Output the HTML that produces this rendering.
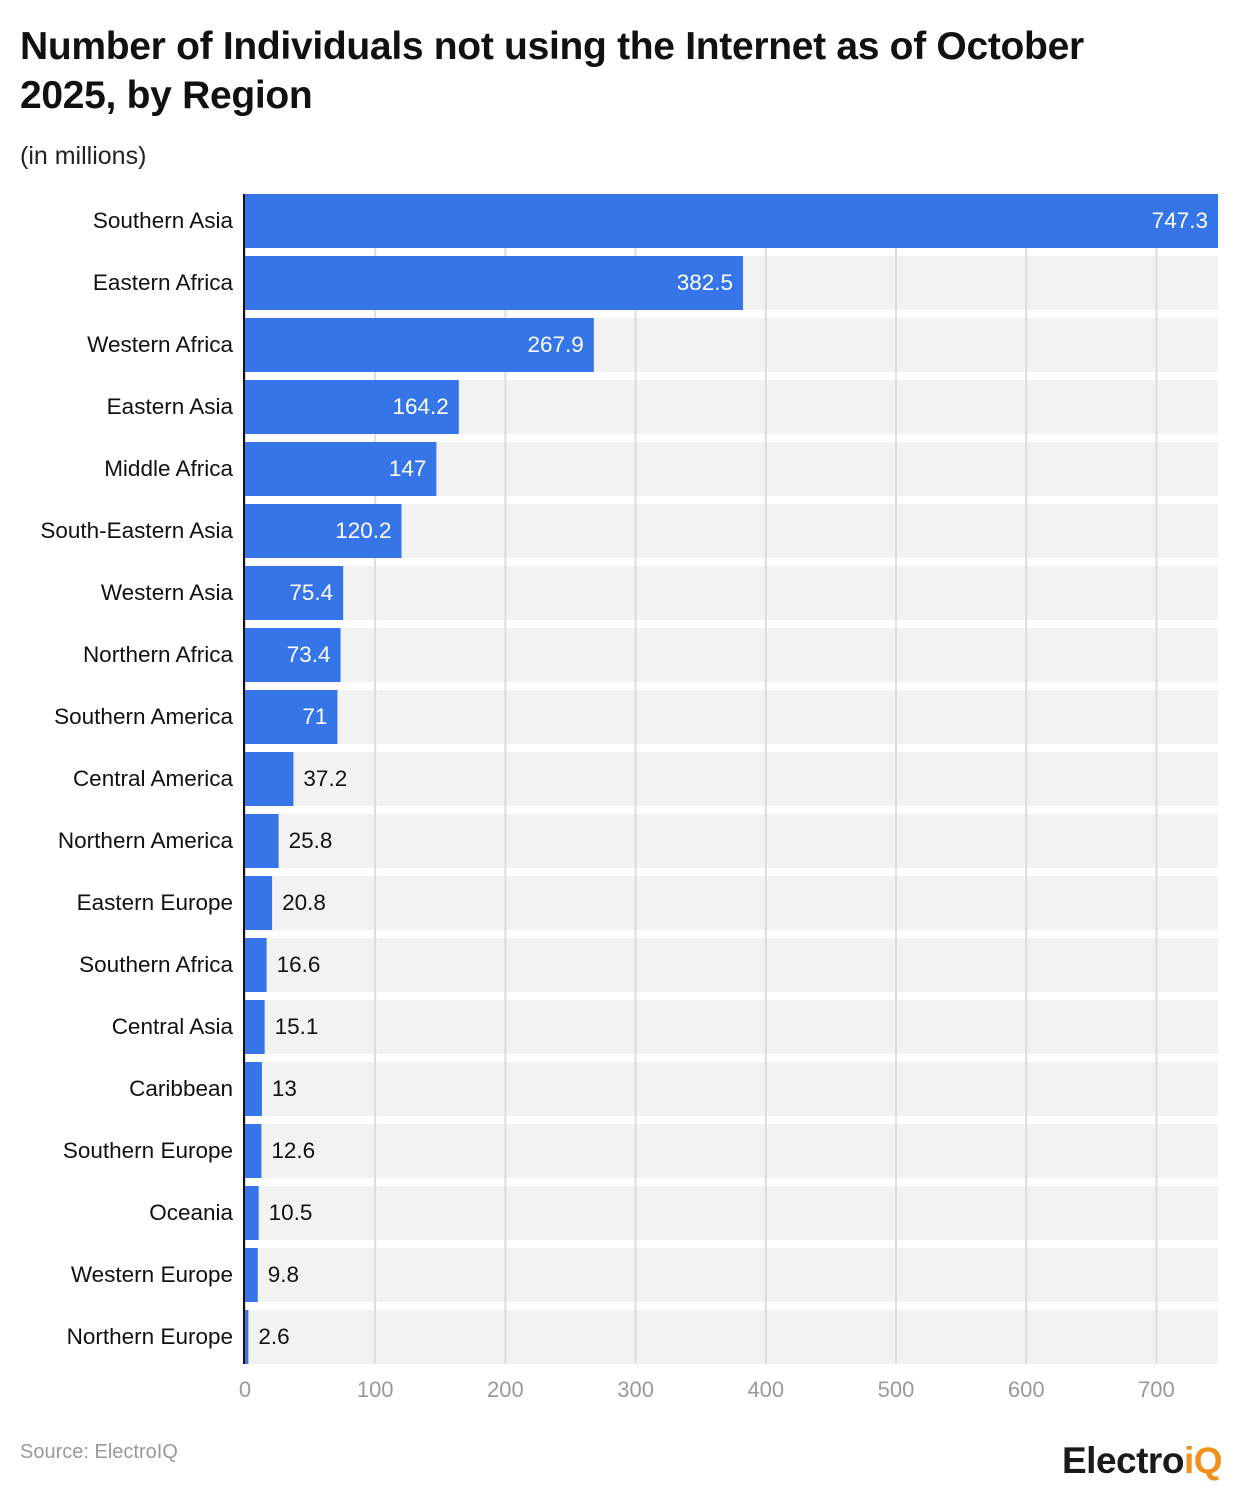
<!DOCTYPE html>
<html><head><meta charset="utf-8"><style>
body{margin:0;background:#fff;font-family:"Liberation Sans",sans-serif;}
#wrap{position:relative;width:1240px;height:1486px;overflow:hidden;}
</style></head><body>
<div id="wrap">
<div style="position:absolute;left:20px;top:22px;width:1150px;font-size:39px;font-weight:bold;line-height:49px;color:#111;letter-spacing:-0.3px">Number of Individuals not using the Internet as of October 2025, by Region</div>
<div style="position:absolute;left:20px;top:142px;font-size:25px;color:#222">(in millions)</div>
<svg id="chart" width="1240" height="1486" style="position:absolute;left:0;top:0"></svg>
<div style="position:absolute;left:20px;top:1441px;font-size:20px;color:#999">Source: ElectroIQ</div>
<div style="position:absolute;left:1062px;top:1440px;font-size:37px;font-weight:bold;color:#1a1a1a;letter-spacing:-0.5px">Electro<span style="color:#f0901a">iQ</span></div>
</div>
<script>
const categories=["Southern Asia","Eastern Africa","Western Africa","Eastern Asia","Middle Africa","South-Eastern Asia","Western Asia","Northern Africa","Southern America","Central America","Northern America","Eastern Europe","Southern Africa","Central Asia","Caribbean","Southern Europe","Oceania","Western Europe","Northern Europe"];
const values=[747.3,382.5,267.9,164.2,147,120.2,75.4,73.4,71,37.2,25.8,20.8,16.6,15.1,13,12.6,10.5,9.8,2.6];
const ticks=[0,100,200,300,400,500,600,700];
const svg=document.getElementById('chart');
const NS='http://www.w3.org/2000/svg';
const x0=245,x1=1218,maxV=747.3,top0=194,pitch=62,bh=54;
const xs=v=>x0+(v/maxV)*(x1-x0);
const ys=i=>top0+i*pitch;
function mk(t,a){const e=document.createElementNS(NS,t);for(const k in a)e.setAttribute(k,a[k]);svg.appendChild(e);return e;}
categories.forEach((c,i)=>{const r=mk('rect',{x:244,y:ys(i),width:x1-244,height:bh,fill:'#f2f2f2'});

});
ticks.forEach(t=>{const l=mk('line',{x1:xs(t),x2:xs(t),y1:top0,y2:ys(categories.length-1)+bh,stroke:'#dcdcdc','stroke-width':2});


const tx=mk('text',{x:xs(t),y:1397,'text-anchor':'middle','font-size':22,fill:'#999','font-family':'Liberation Sans'});tx.textContent=t;

});
categories.forEach((c,i)=>{const y=ys(i),w=xs(values[i])-x0;
const b=mk('rect',{x:x0,y:y,width:w,height:bh,fill:'#3575e8'});


const lb=mk('text',{x:233,y:y+bh/2+7,'text-anchor':'end','font-size':22.5,fill:'#111','font-family':'Liberation Sans'});lb.textContent=c;


const inside=w>80;
const vl=mk('text',{x:inside?x0+w-10:x0+w+10,y:y+bh/2+7,'text-anchor':inside?'end':'start','font-size':22.5,fill:inside?'#fff':'#111','font-family':'Liberation Sans'});vl.textContent=values[i];

});
const ax=mk('line',{x1:244,x2:244,y1:top0,y2:ys(categories.length-1)+bh,stroke:'#111','stroke-width':2});


</script>
</body></html>
